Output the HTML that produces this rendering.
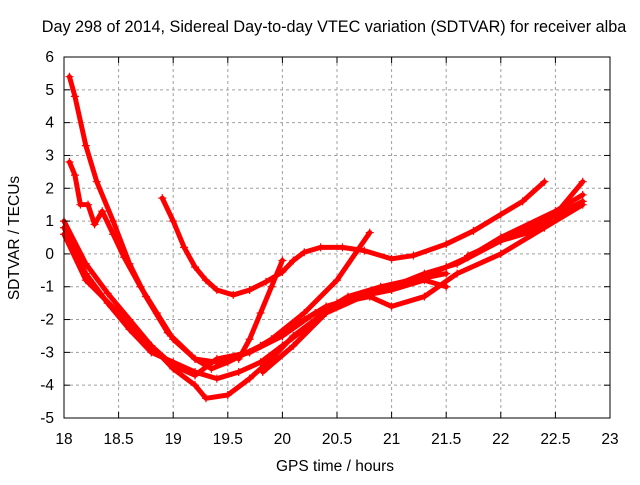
<!DOCTYPE html>
<html><head><meta charset="utf-8"><style>
body{margin:0;background:#fff}
svg text{font-family:"Liberation Sans",sans-serif;font-size:15.5px;fill:#000}
</style></head><body>
<svg id="c" width="640" height="480">
<text x="334" y="32" text-anchor="middle" style="font-size:16.2px">Day 298 of 2014, Sidereal Day-to-day VTEC variation (SDTVAR) for receiver alba</text>
<text x="335" y="471" text-anchor="middle">GPS time / hours</text>
<text x="19" y="238" text-anchor="middle" transform="rotate(-90 19 238)">SDTVAR / TECUs</text>
<g id="grid"></g><g id="series"></g><g id="axes"></g>
</svg>
<script>
const xTicks=[18,18.5,19,19.5,20,20.5,21,21.5,22,22.5,23];
const yTicks=[-5,-4,-3,-2,-1,0,1,2,3,4,5,6];
const s1x=[18.05,18.1,18.2,18.3,18.45,18.6,18.75,18.95,19.2,19.4,19.7,20.0,20.3,20.6,21.0,21.3,21.6,22.0,22.4,22.75];
const s1y=[5.4,4.8,3.3,2.2,1.0,-0.3,-1.3,-2.4,-3.2,-3.3,-3.0,-2.5,-1.8,-1.4,-1.0,-0.6,-0.3,0.4,1.0,1.6];
const s2x=[18.05,18.1,18.15,18.22,18.28,18.35,18.45,18.55,18.7,18.85,19.0,19.2,19.35,19.5,19.8,20.1,20.4,20.7,21.0,21.3,21.5];
const s2y=[2.8,2.4,1.5,1.5,0.9,1.3,0.6,-0.1,-1.0,-1.8,-2.6,-3.2,-3.5,-3.3,-2.8,-2.2,-1.6,-1.3,-1.1,-0.8,-1.0];
const s3x=[18.0,18.2,18.4,18.6,18.8,19.0,19.2,19.3,19.5,19.7,19.9,20.1,20.3,20.5,20.8,21.0,21.3,21.6,22.0,22.4,22.75];
const s3y=[1.0,-0.3,-1.2,-2.0,-2.8,-3.5,-4.0,-4.4,-4.3,-3.8,-3.2,-2.5,-2.0,-1.5,-1.3,-1.6,-1.3,-0.6,0.0,0.8,1.5];
const s4x=[18.0,18.2,18.4,18.6,18.8,19.0,19.2,19.4,19.6,19.8,20.0,20.2,20.4,20.6,20.9,21.3,21.5,21.7,22.0,22.5,22.75];
const s4y=[0.8,-0.6,-1.5,-2.3,-3.0,-3.3,-3.6,-3.8,-3.6,-3.3,-2.8,-2.3,-1.7,-1.3,-1.0,-0.7,-0.4,-0.1,0.5,1.3,1.8];
const s5x=[18.0,18.2,18.5,18.8,19.0,19.2,19.4,19.7,19.9,20.2,20.5,20.8];
const s5y=[0.6,-0.8,-1.8,-2.8,-3.4,-3.7,-3.2,-3.0,-2.6,-1.8,-0.8,0.65];
const s6x=[18.9,19.0,19.1,19.2,19.3,19.4,19.55,19.7,19.85,20.0,20.1,20.2,20.35,20.55,20.75,21.0,21.2,21.5,21.75,22.0,22.2,22.4];
const s6y=[1.7,1.0,0.2,-0.4,-0.8,-1.1,-1.25,-1.1,-0.85,-0.55,-0.2,0.05,0.2,0.2,0.1,-0.15,-0.05,0.3,0.7,1.2,1.6,2.2];
const s7x=[19.6,19.7,19.8,19.9,20.0];
const s7y=[-3.2,-2.6,-1.8,-1.0,-0.2];
const s8x=[19.82,20.1,20.4,20.8,21.2,21.5];
const s8y=[-3.6,-2.8,-1.8,-1.2,-0.8,-0.6];
const s9x=[21.7,22.0,22.3,22.5,22.75];
const s9y=[-0.05,0.4,0.7,1.2,2.2];
const seriesX=[s1x,s2x,s3x,s4x,s5x,s6x,s7x,s8x,s9x];
const seriesY=[s1y,s2y,s3y,s4y,s5y,s6y,s7y,s8y,s9y];
const L=64,R=610,T=57,B=418;
const X=v=>L+(v-18)/5*(R-L);
const Y=v=>B-(v+5)/11*(B-T);
const NS="http://www.w3.org/2000/svg";
function mk(t,a,p){const e=document.createElementNS(NS,t);for(const k in a)e.setAttribute(k,a[k]);p.appendChild(e);return e;}
const grid=document.getElementById('grid'),axes=document.getElementById('axes'),ser=document.getElementById('series');
xTicks.forEach(v=>{const x=X(v);
 if(v>18&&v<23){const g=mk('line',{x1:x,x2:x,y1:T,y2:B,stroke:'#a0a0a0','stroke-dasharray':'3,3'},grid);
 
 }
 mk('line',{x1:x,x2:x,y1:B,y2:B-6,stroke:'#000'},axes);mk('line',{x1:x,x2:x,y1:T,y2:T+6,stroke:'#000'},axes);
 const t=mk('text',{x:x,y:B+26,'text-anchor':'middle'},axes);t.textContent=v;
 
 });
yTicks.forEach(v=>{const y=Y(v);
 if(v>-5&&v<6){const g=mk('line',{x1:L,x2:R,y1:y,y2:y,stroke:'#a0a0a0','stroke-dasharray':'3,3'},grid);
 
 }
 mk('line',{x1:L,x2:L+6,y1:y,y2:y,stroke:'#000'},axes);mk('line',{x1:R,x2:R-6,y1:y,y2:y,stroke:'#000'},axes);
 const t=mk('text',{x:L-10,y:y+5,'text-anchor':'end'},axes);t.textContent=v;
 
 });
const fr=mk('rect',{x:L,y:T,width:R-L,height:B-T,fill:'none',stroke:'#000'},axes);


seriesX.forEach((xs,i)=>{const ys=seriesY[i];
 const g=mk('g',{},ser);
 
 
 const pts=xs.map((x,j)=>X(x)+','+Y(ys[j])).join(' ');
 mk('polyline',{points:pts,fill:'none',stroke:'#ff0000','stroke-width':5,'stroke-linejoin':'round','stroke-linecap':'round'},g);
 xs.forEach((x,j)=>{const px=X(x),py=Y(ys[j]);
  mk('path',{d:`M${px-4},${py}h8M${px},${py-4}v8`,stroke:'#ff0000','stroke-width':1.2},g);});
});
</script>
</body></html>
